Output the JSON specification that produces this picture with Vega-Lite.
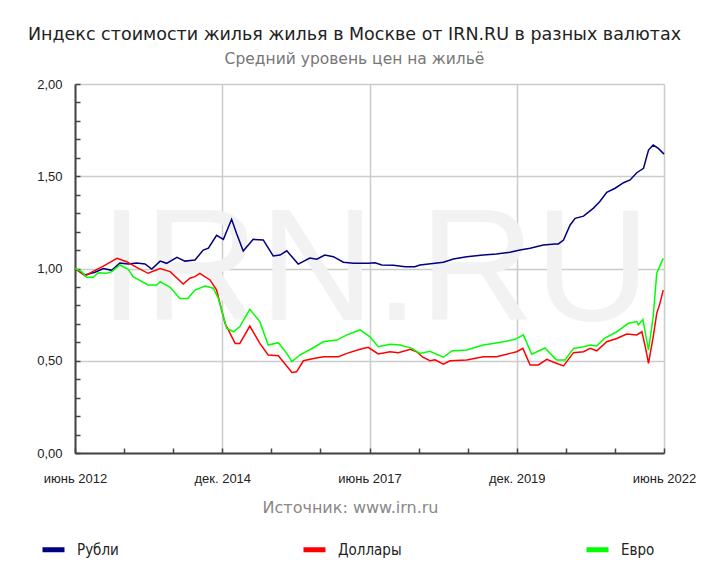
{
  "$schema": "https://vega.github.io/schema/vega-lite/v6.json",
  "width": 589,
  "height": 369,
  "autosize": {"type": "none"},
  "padding": {"left": 75, "top": 84, "right": 52, "bottom": 119},
  "background": "white",
  "title": {
    "text": "Индекс стоимости жилья жилья в Москве от IRN.RU в разных валютах",
    "subtitle": "Средний уровень цен на жильё",
    "anchor": "middle",
    "dx": -15,
    "font": "DejaVu Sans",
    "fontSize": 17.5,
    "fontWeight": "normal",
    "color": "#222222",
    "subtitleFont": "DejaVu Sans",
    "subtitleFontSize": 15.5,
    "subtitleColor": "#777777",
    "subtitlePadding": 8,
    "offset": 11
  },
  "config": {"view": {"stroke": null}},
  "resolve": {"axis": {"x": "independent", "y": "independent"}},
  "datasets": {
    "series": [
      {"d": "2012-06-01", "s": "Рубли", "v": 1.0},
      {"d": "2012-08-02", "s": "Рубли", "v": 0.965},
      {"d": "2012-10-03", "s": "Рубли", "v": 0.98},
      {"d": "2012-11-24", "s": "Рубли", "v": 1.0},
      {"d": "2013-01-15", "s": "Рубли", "v": 0.99},
      {"d": "2013-03-06", "s": "Рубли", "v": 1.03},
      {"d": "2013-04-27", "s": "Рубли", "v": 1.025},
      {"d": "2013-06-18", "s": "Рубли", "v": 1.03},
      {"d": "2013-08-09", "s": "Рубли", "v": 1.025},
      {"d": "2013-09-20", "s": "Рубли", "v": 0.997},
      {"d": "2013-11-11", "s": "Рубли", "v": 1.04},
      {"d": "2013-12-21", "s": "Рубли", "v": 1.028},
      {"d": "2014-02-23", "s": "Рубли", "v": 1.06},
      {"d": "2014-04-13", "s": "Рубли", "v": 1.04},
      {"d": "2014-06-15", "s": "Рубли", "v": 1.046},
      {"d": "2014-08-05", "s": "Рубли", "v": 1.10},
      {"d": "2014-09-06", "s": "Рубли", "v": 1.11},
      {"d": "2014-10-27", "s": "Рубли", "v": 1.18},
      {"d": "2014-12-08", "s": "Рубли", "v": 1.158},
      {"d": "2015-01-28", "s": "Рубли", "v": 1.267},
      {"d": "2015-02-28", "s": "Рубли", "v": 1.19},
      {"d": "2015-04-10", "s": "Рубли", "v": 1.095},
      {"d": "2015-06-11", "s": "Рубли", "v": 1.158},
      {"d": "2015-08-12", "s": "Рубли", "v": 1.155},
      {"d": "2015-10-13", "s": "Рубли", "v": 1.068},
      {"d": "2015-11-24", "s": "Рубли", "v": 1.073},
      {"d": "2016-01-05", "s": "Рубли", "v": 1.096},
      {"d": "2016-03-16", "s": "Рубли", "v": 1.024},
      {"d": "2016-05-27", "s": "Рубли", "v": 1.057},
      {"d": "2016-07-09", "s": "Рубли", "v": 1.05},
      {"d": "2016-08-28", "s": "Рубли", "v": 1.073},
      {"d": "2016-10-20", "s": "Рубли", "v": 1.064},
      {"d": "2016-12-21", "s": "Рубли", "v": 1.034},
      {"d": "2017-02-22", "s": "Рубли", "v": 1.028},
      {"d": "2017-05-24", "s": "Рубли", "v": 1.028},
      {"d": "2017-07-05", "s": "Рубли", "v": 1.031},
      {"d": "2017-08-16", "s": "Рубли", "v": 1.019},
      {"d": "2017-10-27", "s": "Рубли", "v": 1.017},
      {"d": "2018-01-08", "s": "Рубли", "v": 1.01},
      {"d": "2018-03-09", "s": "Рубли", "v": 1.01},
      {"d": "2018-04-10", "s": "Рубли", "v": 1.019},
      {"d": "2018-07-12", "s": "Рубли", "v": 1.028},
      {"d": "2018-09-02", "s": "Рубли", "v": 1.034},
      {"d": "2018-11-03", "s": "Рубли", "v": 1.051},
      {"d": "2019-01-25", "s": "Рубли", "v": 1.064},
      {"d": "2019-05-07", "s": "Рубли", "v": 1.073},
      {"d": "2019-07-28", "s": "Рубли", "v": 1.079},
      {"d": "2019-10-20", "s": "Рубли", "v": 1.088},
      {"d": "2019-12-21", "s": "Рубли", "v": 1.10},
      {"d": "2020-02-22", "s": "Рубли", "v": 1.11},
      {"d": "2020-05-14", "s": "Рубли", "v": 1.127},
      {"d": "2020-07-25", "s": "Рубли", "v": 1.133},
      {"d": "2020-08-15", "s": "Рубли", "v": 1.133},
      {"d": "2020-09-16", "s": "Рубли", "v": 1.154},
      {"d": "2020-10-27", "s": "Рубли", "v": 1.236},
      {"d": "2020-11-27", "s": "Рубли", "v": 1.272},
      {"d": "2021-01-18", "s": "Рубли", "v": 1.284},
      {"d": "2021-03-19", "s": "Рубли", "v": 1.326},
      {"d": "2021-04-28", "s": "Рубли", "v": 1.362},
      {"d": "2021-06-11", "s": "Рубли", "v": 1.413},
      {"d": "2021-08-02", "s": "Рубли", "v": 1.435},
      {"d": "2021-09-23", "s": "Рубли", "v": 1.465},
      {"d": "2021-11-03", "s": "Рубли", "v": 1.48},
      {"d": "2021-12-14", "s": "Рубли", "v": 1.519},
      {"d": "2022-01-25", "s": "Рубли", "v": 1.543},
      {"d": "2022-02-25", "s": "Рубли", "v": 1.642},
      {"d": "2022-03-26", "s": "Рубли", "v": 1.669},
      {"d": "2022-04-27", "s": "Рубли", "v": 1.651},
      {"d": "2022-06-01", "s": "Рубли", "v": 1.62},

      {"d": "2012-06-01", "s": "Доллары", "v": 1.0},
      {"d": "2012-08-02", "s": "Доллары", "v": 0.96},
      {"d": "2012-10-03", "s": "Доллары", "v": 0.99},
      {"d": "2012-11-24", "s": "Доллары", "v": 1.013},
      {"d": "2013-02-16", "s": "Доллары", "v": 1.055},
      {"d": "2013-04-17", "s": "Доллары", "v": 1.037},
      {"d": "2013-06-18", "s": "Доллары", "v": 1.006},
      {"d": "2013-08-28", "s": "Доллары", "v": 0.974},
      {"d": "2013-11-11", "s": "Доллары", "v": 1.0},
      {"d": "2014-01-12", "s": "Доллары", "v": 0.983},
      {"d": "2014-04-03", "s": "Доллары", "v": 0.916},
      {"d": "2014-05-14", "s": "Доллары", "v": 0.947},
      {"d": "2014-06-15", "s": "Доллары", "v": 0.956},
      {"d": "2014-07-15", "s": "Доллары", "v": 0.974},
      {"d": "2014-09-16", "s": "Доллары", "v": 0.938},
      {"d": "2014-10-27", "s": "Доллары", "v": 0.883},
      {"d": "2014-12-18", "s": "Доллары", "v": 0.703},
      {"d": "2015-02-19", "s": "Доллары", "v": 0.594},
      {"d": "2015-03-20", "s": "Доллары", "v": 0.594},
      {"d": "2015-05-21", "s": "Доллары", "v": 0.688},
      {"d": "2015-07-22", "s": "Доллары", "v": 0.594},
      {"d": "2015-09-12", "s": "Доллары", "v": 0.531},
      {"d": "2015-11-14", "s": "Доллары", "v": 0.527},
      {"d": "2016-02-06", "s": "Доллары", "v": 0.437},
      {"d": "2016-03-06", "s": "Доллары", "v": 0.44},
      {"d": "2016-04-17", "s": "Доллары", "v": 0.50},
      {"d": "2016-06-28", "s": "Доллары", "v": 0.513},
      {"d": "2016-08-19", "s": "Доллары", "v": 0.522},
      {"d": "2016-11-21", "s": "Доллары", "v": 0.522},
      {"d": "2017-01-12", "s": "Доллары", "v": 0.54},
      {"d": "2017-04-03", "s": "Доллары", "v": 0.562},
      {"d": "2017-05-24", "s": "Доллары", "v": 0.573},
      {"d": "2017-07-25", "s": "Доллары", "v": 0.537},
      {"d": "2017-10-06", "s": "Доллары", "v": 0.549},
      {"d": "2017-11-27", "s": "Доллары", "v": 0.544},
      {"d": "2018-02-09", "s": "Доллары", "v": 0.562},
      {"d": "2018-03-20", "s": "Доллары", "v": 0.549},
      {"d": "2018-04-28", "s": "Доллары", "v": 0.519},
      {"d": "2018-06-11", "s": "Доллары", "v": 0.50},
      {"d": "2018-07-12", "s": "Доллары", "v": 0.505},
      {"d": "2018-09-02", "s": "Доллары", "v": 0.482},
      {"d": "2018-10-13", "s": "Доллары", "v": 0.50},
      {"d": "2019-01-25", "s": "Доллары", "v": 0.504},
      {"d": "2019-05-07", "s": "Доллары", "v": 0.522},
      {"d": "2019-07-28", "s": "Доллары", "v": 0.522},
      {"d": "2019-10-20", "s": "Доллары", "v": 0.54},
      {"d": "2019-12-01", "s": "Доллары", "v": 0.549},
      {"d": "2020-01-08", "s": "Доллары", "v": 0.567},
      {"d": "2020-02-22", "s": "Доллары", "v": 0.477},
      {"d": "2020-04-13", "s": "Доллары", "v": 0.477},
      {"d": "2020-06-04", "s": "Доллары", "v": 0.508},
      {"d": "2020-07-25", "s": "Доллары", "v": 0.489},
      {"d": "2020-09-16", "s": "Доллары", "v": 0.472},
      {"d": "2020-11-17", "s": "Доллары", "v": 0.544},
      {"d": "2021-01-18", "s": "Доллары", "v": 0.549},
      {"d": "2021-02-28", "s": "Доллары", "v": 0.567},
      {"d": "2021-04-10", "s": "Доллары", "v": 0.554},
      {"d": "2021-06-11", "s": "Доллары", "v": 0.603},
      {"d": "2021-08-12", "s": "Доллары", "v": 0.621},
      {"d": "2021-10-13", "s": "Доллары", "v": 0.645},
      {"d": "2021-12-14", "s": "Доллары", "v": 0.64},
      {"d": "2022-01-15", "s": "Доллары", "v": 0.657},
      {"d": "2022-02-05", "s": "Доллары", "v": 0.576},
      {"d": "2022-02-25", "s": "Доллары", "v": 0.486},
      {"d": "2022-03-26", "s": "Доллары", "v": 0.63},
      {"d": "2022-04-17", "s": "Доллары", "v": 0.757},
      {"d": "2022-05-07", "s": "Доллары", "v": 0.811},
      {"d": "2022-05-27", "s": "Доллары", "v": 0.883},

      {"d": "2012-06-01", "s": "Евро", "v": 1.0},
      {"d": "2012-07-12", "s": "Евро", "v": 0.983},
      {"d": "2012-08-12", "s": "Евро", "v": 0.952},
      {"d": "2012-09-23", "s": "Евро", "v": 0.952},
      {"d": "2012-10-24", "s": "Евро", "v": 0.977},
      {"d": "2012-12-15", "s": "Евро", "v": 0.974},
      {"d": "2013-01-15", "s": "Евро", "v": 0.983},
      {"d": "2013-03-06", "s": "Евро", "v": 1.019},
      {"d": "2013-04-27", "s": "Евро", "v": 0.995},
      {"d": "2013-05-27", "s": "Евро", "v": 0.956},
      {"d": "2013-08-28", "s": "Евро", "v": 0.911},
      {"d": "2013-10-21", "s": "Евро", "v": 0.911},
      {"d": "2013-11-11", "s": "Евро", "v": 0.929},
      {"d": "2014-01-12", "s": "Евро", "v": 0.898},
      {"d": "2014-03-13", "s": "Евро", "v": 0.838},
      {"d": "2014-05-03", "s": "Евро", "v": 0.838},
      {"d": "2014-05-14", "s": "Евро", "v": 0.851},
      {"d": "2014-06-15", "s": "Евро", "v": 0.883},
      {"d": "2014-08-16", "s": "Евро", "v": 0.905},
      {"d": "2014-10-06", "s": "Евро", "v": 0.893},
      {"d": "2014-11-07", "s": "Евро", "v": 0.838},
      {"d": "2014-12-28", "s": "Евро", "v": 0.676},
      {"d": "2015-02-09", "s": "Евро", "v": 0.657},
      {"d": "2015-03-20", "s": "Евро", "v": 0.685},
      {"d": "2015-05-21", "s": "Евро", "v": 0.779},
      {"d": "2015-07-22", "s": "Евро", "v": 0.712},
      {"d": "2015-09-12", "s": "Евро", "v": 0.585},
      {"d": "2015-11-14", "s": "Евро", "v": 0.598},
      {"d": "2016-01-05", "s": "Евро", "v": 0.54},
      {"d": "2016-02-06", "s": "Евро", "v": 0.495},
      {"d": "2016-03-26", "s": "Евро", "v": 0.531},
      {"d": "2016-06-28", "s": "Евро", "v": 0.576},
      {"d": "2016-08-19", "s": "Евро", "v": 0.603},
      {"d": "2016-11-11", "s": "Евро", "v": 0.612},
      {"d": "2017-01-12", "s": "Евро", "v": 0.64},
      {"d": "2017-04-03", "s": "Евро", "v": 0.667},
      {"d": "2017-06-04", "s": "Евро", "v": 0.63},
      {"d": "2017-07-25", "s": "Евро", "v": 0.576},
      {"d": "2017-10-06", "s": "Евро", "v": 0.589},
      {"d": "2017-12-08", "s": "Евро", "v": 0.585},
      {"d": "2018-02-19", "s": "Евро", "v": 0.567},
      {"d": "2018-04-10", "s": "Евро", "v": 0.54},
      {"d": "2018-06-11", "s": "Евро", "v": 0.551},
      {"d": "2018-09-02", "s": "Евро", "v": 0.519},
      {"d": "2018-10-24", "s": "Евро", "v": 0.553},
      {"d": "2019-01-25", "s": "Евро", "v": 0.558},
      {"d": "2019-05-07", "s": "Евро", "v": 0.585},
      {"d": "2019-07-08", "s": "Евро", "v": 0.594},
      {"d": "2019-09-09", "s": "Евро", "v": 0.603},
      {"d": "2019-11-21", "s": "Евро", "v": 0.616},
      {"d": "2020-01-11", "s": "Евро", "v": 0.64},
      {"d": "2020-03-03", "s": "Евро", "v": 0.535},
      {"d": "2020-05-24", "s": "Евро", "v": 0.569},
      {"d": "2020-07-25", "s": "Евро", "v": 0.513},
      {"d": "2020-08-06", "s": "Евро", "v": 0.504},
      {"d": "2020-09-26", "s": "Евро", "v": 0.504},
      {"d": "2020-11-17", "s": "Евро", "v": 0.567},
      {"d": "2021-01-18", "s": "Евро", "v": 0.576},
      {"d": "2021-02-28", "s": "Евро", "v": 0.585},
      {"d": "2021-04-10", "s": "Евро", "v": 0.58},
      {"d": "2021-05-28", "s": "Евро", "v": 0.621},
      {"d": "2021-08-12", "s": "Евро", "v": 0.657},
      {"d": "2021-10-23", "s": "Евро", "v": 0.703},
      {"d": "2021-12-14", "s": "Евро", "v": 0.712},
      {"d": "2021-12-24", "s": "Евро", "v": 0.694},
      {"d": "2022-01-21", "s": "Евро", "v": 0.724},
      {"d": "2022-02-25", "s": "Евро", "v": 0.558},
      {"d": "2022-03-26", "s": "Евро", "v": 0.739},
      {"d": "2022-04-17", "s": "Евро", "v": 0.974},
      {"d": "2022-05-27", "s": "Евро", "v": 1.055}
    ],
    "mark": [{"label": "IRN.RU"}]
  },
  "layer": [
    {
      "data": {"name": "mark"},
      "mark": {"type": "text", "font": "Liberation Sans", "fontSize": 160, "color": "#f2f2f2", "align": "center", "baseline": "alphabetic"},
      "encoding": {
        "x": {"datum": {"year": 2017, "month": 7, "date": 4, "utc": true}, "type": "temporal", "axis": null},
        "y": {"datum": 0.72, "type": "quantitative", "axis": null},
        "text": {"field": "label"}
      }
    },
    {
      "data": {"name": "series"},
      "mark": {"type": "line", "strokeWidth": 1.5},
      "encoding": {
        "x": {
          "field": "d",
          "type": "temporal",
          "scale": {"type": "utc", "domain": [{"year": 2012, "month": 6, "date": 1, "utc": true}, {"year": 2022, "month": 6, "date": 1, "utc": true}]},
          "axis": {
            "values": [
              {"year": 2012, "month": 6, "date": 1, "utc": true},
              {"year": 2013, "month": 4, "date": 1, "utc": true},
              {"year": 2014, "month": 2, "date": 1, "utc": true},
              {"year": 2014, "month": 12, "date": 1, "utc": true},
              {"year": 2015, "month": 10, "date": 1, "utc": true},
              {"year": 2016, "month": 8, "date": 1, "utc": true},
              {"year": 2017, "month": 6, "date": 1, "utc": true},
              {"year": 2018, "month": 4, "date": 1, "utc": true},
              {"year": 2019, "month": 2, "date": 1, "utc": true},
              {"year": 2019, "month": 12, "date": 1, "utc": true},
              {"year": 2020, "month": 10, "date": 1, "utc": true},
              {"year": 2021, "month": 8, "date": 1, "utc": true},
              {"year": 2022, "month": 6, "date": 1, "utc": true}
            ],
            "labelExpr": "utcmonth(datum.value) == 5 ? 'июнь ' + utcyear(datum.value) : (utcmonth(datum.value) == 11 ? 'дек. ' + utcyear(datum.value) : '')",
            "labelFont": "Liberation Sans",
            "labelFontSize": 13,
            "labelColor": "#222222",
            "labelPadding": 24,
            "labelFlush": false,
            "labelOverlap": false,
            "domainColor": "#444444",
            "domainWidth": 2,
            "tickColor": "#444444",
            "tickWidth": 1.5,
            "tickSize": -5,
            "grid": true,
            "gridColor": "#cccccc",
            "gridWidth": 1.5,
            "gridOpacity": {"condition": {"test": "utcmonth(datum.value) == 5 || utcmonth(datum.value) == 11", "value": 1}, "value": 0},
            "title": "Источник: www.irn.ru",
            "titleFont": "DejaVu Sans",
            "titleFontSize": 16,
            "titleFontWeight": "normal",
            "titleColor": "#888888",
            "titlePadding": 14,
            "titleX": 275
          }
        },
        "y": {
          "field": "v",
          "type": "quantitative",
          "scale": {"domain": [0, 2], "nice": false, "zero": true},
          "axis": {
            "values": [0, 0.1, 0.2, 0.3, 0.4, 0.5, 0.6, 0.7, 0.8, 0.9, 1, 1.1, 1.2, 1.3, 1.4, 1.5, 1.6, 1.7, 1.8, 1.9, 2],
            "labelExpr": "indexof([0, 0.5, 1, 1.5, 2], datum.value) >= 0 ? replace(format(datum.value, '.2f'), '.', ',') : ''",
            "labelFont": "Liberation Sans",
            "labelFontSize": 13,
            "labelColor": "#222222",
            "labelPadding": 18,
            "labelOverlap": false,
            "labelFlush": false,
            "domainColor": "#444444",
            "domainWidth": 2,
            "tickColor": "#444444",
            "tickWidth": 1.5,
            "tickSize": -5,
            "grid": true,
            "gridColor": "#cccccc",
            "gridWidth": 1.5,
            "gridOpacity": {"condition": {"test": "indexof([0, 0.5, 1, 1.5, 2], datum.value) >= 0", "value": 1}, "value": 0},
            "title": null
          }
        },
        "color": {
          "field": "s",
          "type": "nominal",
          "scale": {"domain": ["Рубли", "Доллары", "Евро"], "range": ["#000080", "#ff0000", "#00ff00"]},
          "legend": {
            "title": null,
            "orient": "none",
            "legendX": -35,
            "legendY": 452,
            "direction": "horizontal",
            "columns": 3,
            "columnPadding": 174,
            "symbolType": "stroke",
            "symbolStrokeWidth": 5,
            "symbolSize": 484,
            "labelFont": "DejaVu Sans Condensed",
            "labelFontSize": 15,
            "labelColor": "#222222",
            "labelOffset": 10
          }
        }
      }
    }
  ]
}
